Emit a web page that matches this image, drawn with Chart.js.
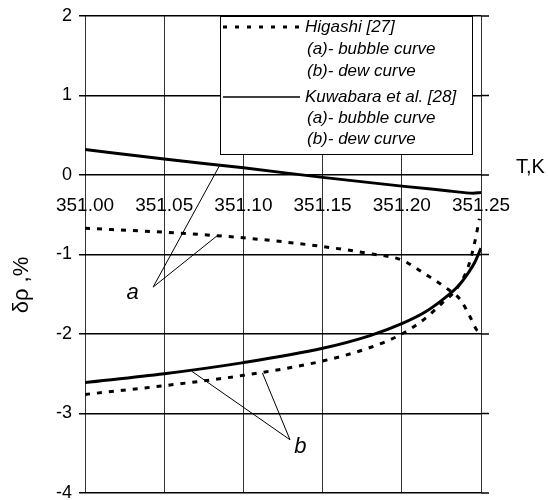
<!DOCTYPE html>
<html><head><meta charset="utf-8">
<script src="https://cdn.jsdelivr.net/npm/chart.js@4/dist/chart.umd.min.js"></script>
<style>html,body{margin:0;padding:0;background:#fff}canvas{display:block}</style>
</head><body>
<canvas id="c" width="548" height="500"></canvas>
<script>
// ---- data ----
const xTicks = [351.00, 351.05, 351.10, 351.15, 351.20, 351.25];
const yTicks = [2, 1, 0, -1, -2, -3, -4];

const kuwaBubbleT = [351.00, 351.05, 351.10, 351.15, 351.20, 351.23, 351.245, 351.25];
const kuwaBubble  = [0.32, 0.20, 0.09, -0.03, -0.14, -0.20, -0.23, -0.22];

const kuwaDewT = [351.00, 351.05, 351.10, 351.15, 351.18, 351.20, 351.215, 351.225, 351.235, 351.242, 351.246, 351.25];
const kuwaDew  = [-2.61, -2.50, -2.36, -2.18, -2.02, -1.87, -1.72, -1.58, -1.41, -1.23, -1.10, -0.92];

const higaBubbleT = [351.00, 351.05, 351.10, 351.15, 351.18, 351.20, 351.215, 351.228, 351.237, 351.243, 351.247, 351.25];
const higaBubble  = [-0.67, -0.72, -0.79, -0.90, -0.99, -1.07, -1.25, -1.42, -1.57, -1.78, -1.94, -2.00];

const higaDewT = [351.00, 351.05, 351.10, 351.15, 351.18, 351.20, 351.215, 351.225, 351.235, 351.242, 351.246, 351.249];
const higaDew  = [-2.76, -2.65, -2.52, -2.34, -2.17, -2.00, -1.80, -1.62, -1.42, -1.15, -0.85, -0.55];

// pointer annotations (data units)
const labelA = { text: 'a', at: [351.030, -1.48], vertex: [351.043, -1.41], ends: [[351.085, 0.12], [351.084, -0.755]] };
const labelB = { text: 'b', at: [351.136, -3.42], vertex: [351.1294, -3.33], ends: [[351.0675, -2.47], [351.112, -2.49]] };

const legendItems = [
  { dash: [4, 8], title: 'Higashi [27]', lines: ['(a)- bubble curve', '(b)- dew curve'] },
  { dash: [], title: 'Kuwabara et al. [28]', lines: ['(a)- bubble curve', '(b)- dew curve'] }
];
const yTitle = 'δρ ,%';
const xTitle = 'T,K';

const pts = (xs, ys) => xs.map((x, i) => ({ x: x, y: ys[i] }));

const FONT = "'Liberation Sans', Arial, sans-serif";

const extrasPlugin = {
  id: 'extras',
  beforeDatasetsDraw(chart) {
    const { ctx, chartArea, scales } = chart;
    ctx.save();
    ctx.strokeStyle = '#000';
    ctx.lineWidth = 1.5;
    yTicks.forEach(v => {
      const py = scales.y.getPixelForValue(v);
      ctx.beginPath();
      ctx.moveTo(chartArea.right, py);
      ctx.lineTo(chartArea.right + 8, py);
      ctx.stroke();
    });
    ctx.restore();
  },
  afterDatasetsDraw(chart) {
    const { ctx, chartArea, scales } = chart;
    const X = v => scales.x.getPixelForValue(v);
    const Y = v => scales.y.getPixelForValue(v);
    ctx.save();
    // pointers
    ctx.strokeStyle = '#000';
    ctx.lineWidth = 1;
    [labelA, labelB].forEach(l => {
      l.ends.forEach(e => {
        ctx.beginPath();
        ctx.moveTo(X(l.vertex[0]), Y(l.vertex[1]));
        ctx.lineTo(X(e[0]), Y(e[1]));
        ctx.stroke();
      });
      ctx.fillStyle = '#000';
      ctx.font = 'italic 22px ' + FONT;
      ctx.textAlign = 'center';
      ctx.textBaseline = 'middle';
      ctx.fillText(l.text, X(l.at[0]), Y(l.at[1]));
    });
    // legend box
    const bx = 220, by = chartArea.top, bw = 252, bh = 138;
    ctx.fillStyle = '#fff';
    ctx.fillRect(bx, by, bw, bh);
    ctx.strokeStyle = '#000';
    ctx.lineWidth = 1;
    ctx.strokeRect(bx + 0.5, by + 0.5, bw, bh);
    ctx.font = 'italic 17px ' + FONT;
    ctx.textAlign = 'left';
    ctx.textBaseline = 'middle';
    const rowY = [[27, 49, 71], [97, 118, 139]];
    legendItems.forEach((it, i) => {
      const r = rowY[i];
      ctx.beginPath();
      ctx.setLineDash(it.dash);
      ctx.lineWidth = i === 0 ? 3 : 1.5;
      ctx.moveTo(223, r[0]);
      ctx.lineTo(300, r[0]);
      ctx.stroke();
      ctx.setLineDash([]);
      ctx.fillStyle = '#000';
      ctx.fillText(it.title, 305, r[0]);
      ctx.fillText(it.lines[0], 307, r[1]);
      ctx.fillText(it.lines[1], 307, r[2]);
    });
    // x axis title
    ctx.font = '20px ' + FONT;
    ctx.textAlign = 'left';
    ctx.textBaseline = 'middle';
    ctx.fillText(xTitle, 516, Y(0) - 8);
    ctx.restore();
  }
};

const solid = { borderColor: '#000', borderWidth: 3, pointRadius: 0, fill: false, cubicInterpolationMode: 'monotone', tension: 0.4 };
const dashed = Object.assign({}, solid, { borderDash: [5, 7] });

new Chart(document.getElementById('c'), {
  type: 'line',
  data: {
    datasets: [
      Object.assign({ label: 'Kuwabara (a)', data: pts(kuwaBubbleT, kuwaBubble) }, solid),
      Object.assign({ label: 'Kuwabara (b)', data: pts(kuwaDewT, kuwaDew) }, solid),
      Object.assign({ label: 'Higashi (a)', data: pts(higaBubbleT, higaBubble) }, dashed),
      Object.assign({ label: 'Higashi (b)', data: pts(higaDewT, higaDew) }, dashed)
    ]
  },
  options: {
    responsive: false,
    devicePixelRatio: 1,
    animation: false,
    layout: { padding: { left: 0, top: 16, right: 67, bottom: 7 } },
    plugins: { legend: { display: false }, tooltip: { enabled: false } },
    scales: {
      x: {
        type: 'linear',
        min: 351.00, max: 351.25,
        position: { y: 0 },
        afterBuildTicks: s => { s.ticks = xTicks.map(v => ({ value: v })); },
        afterFit: s => { s.height = 0; s.paddingLeft = 0; s.paddingRight = 0; },
        ticks: { color: '#000', font: { family: FONT, size: 19 }, padding: 19, maxRotation: 0, autoSkip: false,
                 callback: v => v.toFixed(2) },
        grid: { color: '#333', lineWidth: 1, drawTicks: false },
        border: { display: false }
      },
      y: {
        type: 'linear',
        min: -4, max: 2,
        afterBuildTicks: s => { s.ticks = yTicks.map(v => ({ value: v })); },
        afterFit: s => { s.width = 85; s.paddingTop = 0; s.paddingBottom = 0; },
        ticks: { color: '#000', font: { family: FONT, size: 18 }, padding: 7, autoSkip: false },
        grid: { color: '#000', lineWidth: 1.5, tickLength: 6 },
        border: { display: false },
        title: { display: true, text: yTitle + '          ', color: '#000', font: { family: FONT, size: 22 }, padding: { top: 9, bottom: 0 } }
      }
    }
  },
  plugins: [extrasPlugin]
});
</script>
</body></html>
